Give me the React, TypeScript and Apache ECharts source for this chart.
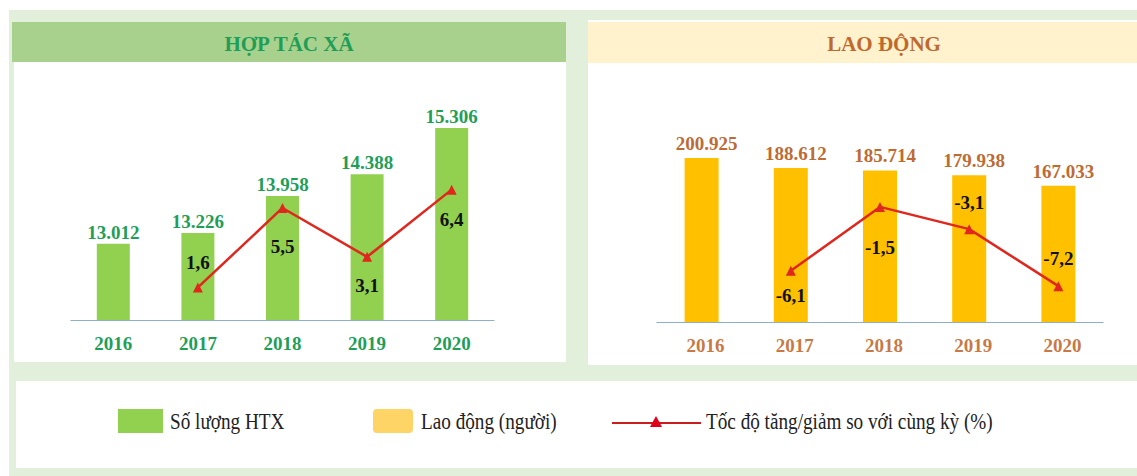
import React, { useEffect, useRef } from "react";
import * as echarts from "echarts";

const years = ["2016", "2017", "2018", "2019", "2020"];
const htxCount = [13012, 13226, 13958, 14388, 15306];
const htxGrowth: (number | null)[] = [null, 1.6, 5.5, 3.1, 6.4];
const laborCount = [200925, 188612, 185714, 179938, 167033];
const laborGrowth: (number | null)[] = [null, -6.1, -1.5, -3.1, -7.2];

const htxTitle = "HỢP TÁC XÃ";
const laborTitle = "LAO ĐỘNG";
const legendNames = ["Số lượng HTX", "Lao động (người)", "Tốc độ tăng/giảm so với cùng kỳ (%)"];

// label styling (placement only)
const htxLabelPos = ["top", "top", "bottom", "bottom", "bottom"];
const htxLabelDist = [0, 10, 24, 14, 15];
const laborLabelPos = ["top", "bottom", "bottom", "top", "top"];
const laborLabelDist = [0, 10, 26, 12, 13];

const FONT = '"Liberation Serif", "Times New Roman", serif';
const GREEN_TXT = "#1f9e58";
const BROWN_TXT = "#bd6b34";
const RED = "#e0261d";

const thousands = (v: number) => String(v).replace(/\B(?=(\d{3})+(?!\d))/g, ".");
const dec = (v: number) => v.toFixed(1).replace(".", ",");

export default function App() {
  const ref = useRef<HTMLDivElement>(null);
  useEffect(() => {
    if (!ref.current) return;
    const chart = echarts.init(ref.current, null, { renderer: "svg" });
    const lineData = (arr: (number | null)[], pos: string[], dist: number[]) =>
      arr.map((v, i) =>
        v == null ? "-" : { value: v, label: { position: pos[i], distance: dist[i] } }
      );
    const option: any = {
      animation: false,
      backgroundColor: "#ffffff",
      graphic: [
        { type: "rect", silent: true, z: -10, shape: { x: 9, y: 10, width: 1128, height: 466 }, style: { fill: "#e2efda" } },
        { type: "rect", silent: true, z: -9, shape: { x: 14, y: 62, width: 552, height: 300 }, style: { fill: "#ffffff" } },
        { type: "rect", silent: true, z: -9, shape: { x: 12, y: 22, width: 554, height: 40 }, style: { fill: "#a9d18e" } },
        { type: "rect", silent: true, z: -9, shape: { x: 588, y: 20, width: 549, height: 345 }, style: { fill: "#ffffff" } },
        { type: "rect", silent: true, z: -9, shape: { x: 588, y: 22, width: 549, height: 41 }, style: { fill: "#fff2cc" } },
        { type: "rect", silent: true, z: -9, shape: { x: 16, y: 381, width: 1121, height: 87 }, style: { fill: "#ffffff" } },
        {
          type: "text", x: 289, y: 44, silent: true,
          style: { text: htxTitle, fill: GREEN_TXT, font: `bold 21px ${FONT}`, align: "center", verticalAlign: "middle" },
        },
        {
          type: "text", x: 884, y: 44, silent: true,
          style: { text: laborTitle, fill: "#c0692f", font: `bold 21px ${FONT}`, align: "center", verticalAlign: "middle" },
        },
        // legend
        { type: "rect", silent: true, shape: { x: 118, y: 409, width: 45, height: 24 }, style: { fill: "#92d050" } },
        {
          type: "text", x: 170, y: 421, scaleX: 0.8, silent: true,
          style: { text: legendNames[0], fill: "#222222", font: `24px ${FONT}`, align: "left", verticalAlign: "middle" },
        },
        { type: "rect", silent: true, shape: { x: 373, y: 409, width: 40, height: 24, r: 4 }, style: { fill: "#ffd466" } },
        {
          type: "text", x: 421, y: 421, scaleX: 0.8, silent: true,
          style: { text: legendNames[1], fill: "#222222", font: `24px ${FONT}`, align: "left", verticalAlign: "middle" },
        },
        { type: "line", silent: true, shape: { x1: 612, y1: 423, x2: 701, y2: 423 }, style: { stroke: "#c81e1e", lineWidth: 2 } },
        { type: "polygon", silent: true, shape: { points: [[656, 416], [650, 427], [662, 427]] }, style: { fill: "#e0001a" } },
        {
          type: "text", x: 706, y: 421, scaleX: 0.8, silent: true,
          style: { text: legendNames[2], fill: "#222222", font: `24px ${FONT}`, align: "left", verticalAlign: "middle" },
        },
      ],
      grid: [
        { left: 71, top: 100, width: 423, height: 220 },
        { left: 657, top: 100, width: 446, height: 222 },
      ],
      xAxis: [
        {
          gridIndex: 0, type: "category", data: years,
          axisTick: { show: false },
          axisLine: { onZero: false, lineStyle: { color: "#8eaec9", width: 1.2 } },
          axisLabel: { color: GREEN_TXT, fontWeight: "bold", fontSize: 19, fontFamily: FONT, margin: 14 },
        },
        {
          gridIndex: 1, type: "category", data: years,
          axisTick: { show: false },
          axisLine: { onZero: false, lineStyle: { color: "#8eaec9", width: 1.2 } },
          axisLabel: { color: "#c77a45", fontWeight: "bold", fontSize: 19, fontFamily: FONT, margin: 14, padding: [0, 0, 0, 8] },
        },
      ],
      yAxis: [
        { gridIndex: 0, type: "value", min: 11500, max: 15860, show: false },
        { gridIndex: 0, type: "value", min: 0, max: 10.8, show: false },
        { gridIndex: 1, type: "value", min: 0, max: 272000, show: false },
        { gridIndex: 1, type: "value", min: -9.78, max: 6.19, show: false },
      ],
      series: [
        {
          type: "bar", xAxisIndex: 0, yAxisIndex: 0, data: htxCount, barWidth: 33,
          itemStyle: { color: "#92d050" },
          label: {
            show: true, position: "top", distance: 2, color: GREEN_TXT, fontWeight: "bold", fontSize: 19, fontFamily: FONT,
            formatter: (p: any) => thousands(p.value),
          },
        },
        {
          type: "line", xAxisIndex: 0, yAxisIndex: 1, data: lineData(htxGrowth, htxLabelPos, htxLabelDist),
          lineStyle: { color: RED, width: 2.5 }, itemStyle: { color: RED },
          symbol: "triangle", symbolSize: 10, showAllSymbol: true, z: 5,
          label: {
            show: true, color: "#111111", fontWeight: "bold", fontSize: 19, fontFamily: FONT,
            formatter: (p: any) => dec(p.value),
          },
        },
        {
          type: "bar", xAxisIndex: 1, yAxisIndex: 2, data: laborCount, barWidth: 34,
          itemStyle: { color: "#ffc000" },
          label: {
            show: true, position: "top", distance: 5, offset: [5, 0], color: BROWN_TXT, fontWeight: "bold", fontSize: 19, fontFamily: FONT,
            formatter: (p: any) => thousands(p.value),
          },
        },
        {
          type: "line", xAxisIndex: 1, yAxisIndex: 3, data: lineData(laborGrowth, laborLabelPos, laborLabelDist),
          lineStyle: { color: RED, width: 2.5 }, itemStyle: { color: RED },
          symbol: "triangle", symbolSize: 10, showAllSymbol: true, z: 5,
          label: {
            show: true, color: "#111111", fontWeight: "bold", fontSize: 19, fontFamily: FONT,
            formatter: (p: any) => dec(p.value),
          },
        },
      ],
    };
    chart.setOption(option);
    return () => chart.dispose();
  }, []);
  return (
    <div
      ref={ref}
      style={{ position: "fixed", left: 0, top: 0, width: 1137, height: 476, background: "#ffffff" }}
    />
  );
}
